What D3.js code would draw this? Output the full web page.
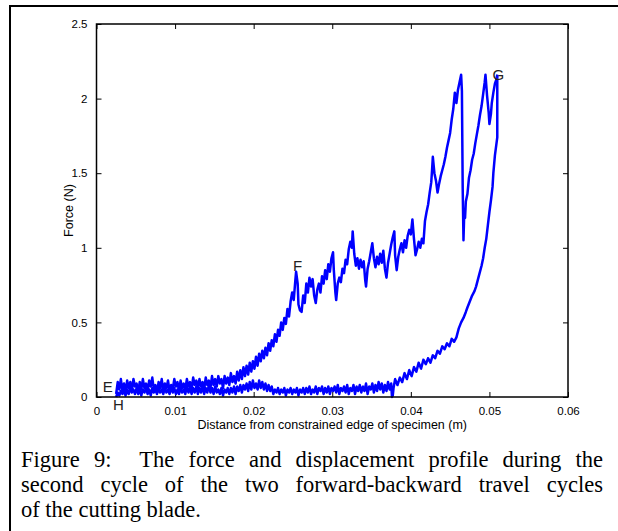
<!DOCTYPE html>
<html>
<head>
<meta charset="utf-8">
<script src="https://cdn.jsdelivr.net/npm/d3@7"></script>
<style>
  body { margin: 0; background: #fff; }
  #wrap { position: relative; width: 618px; height: 531px; overflow: hidden; }
  svg { position: absolute; left: 0; top: 0; }
  .cap { position: absolute; left: 21px; width: 582px; font-family: "Liberation Serif", "Times New Roman", serif;
         font-size: 22.5px; line-height: 25px; color: #000; white-space: nowrap; }
  .just { text-align: justify; text-align-last: justify; }
  .tick text { font-family: "Liberation Sans", Arial, sans-serif; font-size: 11.5px; fill: #000; }
</style>
</head>
<body>
<div id="wrap">
  <div id="chart"></div>
</div>
<script>
// chart values
var xTicks = [0, 0.01, 0.02, 0.03, 0.04, 0.05, 0.06];
var yTicks = [0, 0.5, 1, 1.5, 2, 2.5];
var xTitle = "Distance from constrained edge of specimen (m)";
var yTitle = "Force (N)";
var captionLines = [
  "Figure 9:\u00a0 The force and displacement profile during the",
  "second cycle of the two forward-backward travel cycles",
  "of the cutting blade."
];
// point labels [text, x, y]
var pointLabels = [["E", 0.0008, 0.034], ["F", 0.0250, 0.845], ["G", 0.0504, 2.125], ["H", 0.0021, -0.087]];

// forward travel E -> F -> G
var forwardPath = [
  [0.0025,0.02],[0.0027,0.10],[0.0029,0.05],[0.0031,0.12],[0.0033,0.04],[0.0035,0.09],[0.0037,0.03],[0.0039,0.11],
  [0.0041,0.06],[0.0043,0.10],[0.0045,0.04],[0.0047,0.12],[0.0049,0.07],[0.0051,0.09],[0.0053,0.03],[0.0055,0.10],
  [0.0057,0.05],[0.0059,0.12],[0.0061,0.06],[0.0063,0.09],[0.0065,0.04],[0.0067,0.11],[0.0069,0.07],[0.0071,0.13],
  [0.0073,0.05],[0.0075,0.08],[0.0077,0.03],[0.0079,0.10],[0.0081,0.06],[0.0083,0.12],[0.0085,0.04],[0.0087,0.09],
  [0.0089,0.06],[0.0091,0.11],[0.0093,0.04],[0.0095,0.08],[0.0097,0.05],[0.0099,0.12],[0.0101,0.07],[0.0103,0.10],
  [0.0105,0.04],[0.0107,0.11],[0.0109,0.06],[0.0111,0.09],[0.0113,0.05],[0.0115,0.12],[0.0117,0.07],[0.0119,0.10],
  [0.0121,0.05],[0.0123,0.13],[0.0125,0.08],[0.0127,0.11],[0.0129,0.06],[0.0131,0.12],[0.0133,0.07],[0.0135,0.10],
  [0.0137,0.05],[0.0139,0.13],[0.0141,0.08],[0.0143,0.11],[0.0145,0.06],[0.0147,0.14],[0.0149,0.08],[0.0151,0.12],
  [0.0153,0.07],[0.0155,0.14],[0.0157,0.09],[0.0159,0.12],[0.0161,0.06],[0.0163,0.14],[0.0165,0.09],[0.0167,0.13],
  [0.0169,0.08],[0.0171,0.16],[0.0173,0.10],[0.0175,0.14],[0.0177,0.09],[0.0179,0.17],[0.0181,0.11],[0.0183,0.18],
  [0.0185,0.12],[0.0187,0.20],[0.0189,0.14],[0.0191,0.21],[0.0193,0.15],[0.0195,0.23],[0.0197,0.17],[0.0199,0.24],
  [0.0201,0.19],[0.0203,0.27],[0.0205,0.21],[0.0207,0.29],[0.0209,0.24],[0.0211,0.31],[0.0213,0.26],[0.0215,0.33],
  [0.0217,0.28],[0.0219,0.36],[0.0221,0.31],[0.0223,0.38],[0.0225,0.34],[0.0227,0.42],[0.0229,0.37],[0.0231,0.45],
  [0.0233,0.41],[0.0235,0.50],[0.0237,0.45],[0.0239,0.53],[0.0241,0.49],[0.0243,0.59],[0.0245,0.54],[0.0247,0.64],
  [0.0249,0.70],[0.0251,0.65],[0.0253,0.78],[0.0254,0.84],[0.0256,0.76],[0.0257,0.62],[0.0259,0.58],[0.0261,0.57],
  [0.0263,0.68],[0.0265,0.63],[0.0267,0.76],[0.0269,0.70],[0.0271,0.80],[0.0273,0.74],[0.0275,0.79],[0.0277,0.68],
  [0.0279,0.63],[0.0281,0.72],[0.0283,0.76],[0.0285,0.70],[0.0287,0.81],[0.0289,0.76],[0.0291,0.85],[0.0293,0.79],
  [0.0295,0.89],[0.0297,0.84],[0.0299,0.93],[0.0301,0.97],[0.0302,0.85],[0.0304,0.70],[0.0305,0.65],[0.0307,0.76],
  [0.0309,0.80],[0.0311,0.77],[0.0313,0.86],[0.0315,0.83],[0.0317,0.92],[0.0319,0.89],[0.0321,0.99],[0.0323,1.04],
  [0.0325,1.00],[0.0326,1.11],[0.0328,0.96],[0.0330,0.88],[0.0332,0.93],[0.0334,0.86],[0.0336,0.92],[0.0338,0.87],
  [0.0340,0.91],[0.0342,0.78],[0.0343,0.74],[0.0345,0.86],[0.0347,0.91],[0.0349,0.97],[0.0351,1.03],[0.0353,0.93],
  [0.0355,0.87],[0.0357,0.94],[0.0359,0.89],[0.0361,0.96],[0.0363,0.90],[0.0365,0.98],[0.0367,0.86],[0.0369,0.80],
  [0.0371,0.90],[0.0373,0.96],[0.0375,1.02],[0.0377,1.07],[0.0379,1.11],[0.0380,0.95],[0.0382,0.85],[0.0384,0.94],
  [0.0386,0.99],[0.0388,1.03],[0.0390,0.97],[0.0392,1.05],[0.0394,1.00],[0.0396,1.08],[0.0398,1.12],[0.0400,1.09],
  [0.0402,1.19],[0.0404,1.06],[0.0406,0.95],[0.0408,0.99],[0.0410,1.04],[0.0412,1.00],[0.0414,1.06],[0.0416,1.03],
  [0.0418,1.18],[0.0420,1.24],[0.0422,1.29],[0.0424,1.37],[0.0426,1.44],[0.0427,1.52],[0.0428,1.61],[0.0430,1.50],
  [0.0432,1.45],[0.0434,1.37],[0.0436,1.43],[0.0438,1.48],[0.0440,1.52],[0.0442,1.56],[0.0444,1.61],[0.0446,1.67],
  [0.0448,1.72],[0.0450,1.77],[0.0452,1.86],[0.0454,1.93],[0.0456,2.04],[0.0458,1.97],[0.0460,2.06],[0.0462,2.11],
  [0.0464,2.16],[0.0465,2.05],[0.0466,1.40],[0.0467,1.05],[0.0468,1.24],[0.0469,1.20],[0.0470,1.31],[0.0472,1.36],
  [0.0474,1.47],[0.0476,1.52],[0.0478,1.59],[0.0480,1.63],[0.0482,1.70],[0.0484,1.76],[0.0486,1.82],[0.0488,1.89],
  [0.0490,1.95],[0.0492,2.03],[0.0494,2.11],[0.0495,2.16],[0.0497,2.02],[0.0499,1.91],[0.0500,1.83],[0.0502,1.90],
  [0.0503,1.97],[0.0505,2.04],[0.0507,2.10],[0.0509,2.13],[0.0510,2.16]
];

// backward travel G -> H
var returnPath = [
  [0.0510,2.16],[0.0510,1.74],[0.0507,1.62],[0.0505,1.50],[0.0504,1.41],[0.0502,1.32],[0.0500,1.24],[0.0498,1.15],
  [0.0496,1.06],[0.0494,1.00],[0.0492,0.93],[0.0490,0.88],[0.0487,0.82],[0.0485,0.78],[0.0483,0.74],[0.0481,0.71],
  [0.0478,0.68],[0.0475,0.64],[0.0472,0.60],[0.0470,0.57],[0.0467,0.53],[0.0464,0.50],[0.0461,0.46],[0.0458,0.40],
  [0.0455,0.37],[0.0452,0.39],[0.0449,0.34],[0.0446,0.36],[0.0443,0.32],[0.0440,0.34],[0.0437,0.29],[0.0434,0.31],
  [0.0431,0.26],[0.0428,0.28],[0.0425,0.23],[0.0422,0.26],[0.0419,0.22],[0.0416,0.25],[0.0413,0.19],[0.0410,0.23],
  [0.0407,0.17],[0.0404,0.20],[0.0401,0.14],[0.0398,0.18],[0.0395,0.12],[0.0392,0.16],[0.0389,0.10],[0.0386,0.13],
  [0.0383,0.08],[0.0380,0.12],[0.0378,0.06],[0.0377,0.01],[0.0376,0.00],[0.0375,0.09],[0.0373,0.05],[0.0371,0.10],
  [0.0369,0.04],[0.0367,0.08],[0.0365,0.03],[0.0363,0.09],[0.0361,0.05],[0.0359,0.10],[0.0357,0.04],[0.0355,0.08],
  [0.0353,0.03],[0.0351,0.09],[0.0349,0.05],[0.0347,0.07],[0.0345,0.02],[0.0343,0.09],[0.0341,0.04],[0.0339,0.07],
  [0.0337,0.03],[0.0335,0.08],[0.0333,0.04],[0.0331,0.07],[0.0329,0.02],[0.0327,0.08],[0.0325,0.04],[0.0323,0.06],
  [0.0321,0.02],[0.0319,0.08],[0.0317,0.03],[0.0315,0.07],[0.0313,0.04],[0.0311,0.06],[0.0309,0.02],[0.0307,0.08],
  [0.0305,0.03],[0.0303,0.07],[0.0301,0.04],[0.0299,0.06],[0.0297,0.02],[0.0295,0.07],[0.0293,0.03],[0.0291,0.06],
  [0.0289,0.02],[0.0287,0.07],[0.0285,0.04],[0.0283,0.06],[0.0281,0.02],[0.0279,0.07],[0.0277,0.03],[0.0275,0.05],
  [0.0273,0.02],[0.0271,0.07],[0.0269,0.03],[0.0267,0.06],[0.0265,0.02],[0.0263,0.06],[0.0261,0.03],[0.0259,0.05],
  [0.0257,0.01],[0.0255,0.06],[0.0253,0.03],[0.0251,0.05],[0.0249,0.02],[0.0247,0.06],[0.0245,0.03],[0.0243,0.05],
  [0.0241,0.01],[0.0239,0.06],[0.0237,0.03],[0.0235,0.05],[0.0233,0.02],[0.0231,0.06],[0.0229,0.03],[0.0227,0.05],
  [0.0225,0.02],[0.0223,0.07],[0.0221,0.04],[0.0219,0.08],[0.0217,0.04],[0.0215,0.09],[0.0213,0.05],[0.0211,0.10],
  [0.0209,0.06],[0.0207,0.11],[0.0205,0.05],[0.0203,0.09],[0.0201,0.06],[0.0199,0.11],[0.0197,0.05],[0.0195,0.10],
  [0.0193,0.04],[0.0191,0.09],[0.0189,0.05],[0.0187,0.08],[0.0185,0.03],[0.0183,0.08],[0.0181,0.04],[0.0179,0.07],
  [0.0177,0.02],[0.0175,0.07],[0.0173,0.03],[0.0171,0.06],[0.0169,0.02],[0.0167,0.06],[0.0165,0.03],[0.0163,0.05],
  [0.0161,0.01],[0.0159,0.06],[0.0157,0.02],[0.0155,0.05],[0.0153,0.03],[0.0151,0.07],[0.0149,0.02],[0.0147,0.06],
  [0.0145,0.03],[0.0143,0.08],[0.0141,0.03],[0.0139,0.06],[0.0137,0.02],[0.0135,0.07],[0.0133,0.03],[0.0131,0.06],
  [0.0129,0.02],[0.0127,0.07],[0.0125,0.03],[0.0123,0.06],[0.0121,0.02],[0.0119,0.06],[0.0117,0.03],[0.0115,0.07],
  [0.0113,0.02],[0.0111,0.05],[0.0109,0.03],[0.0107,0.06],[0.0105,0.02],[0.0103,0.05],[0.0101,0.02],[0.0099,0.06],
  [0.0097,0.03],[0.0095,0.07],[0.0093,0.02],[0.0091,0.05],[0.0089,0.03],[0.0087,0.06],[0.0085,0.02],[0.0083,0.05],
  [0.0081,0.03],[0.0079,0.06],[0.0077,0.02],[0.0075,0.05],[0.0073,0.03],[0.0071,0.06],[0.0069,0.01],[0.0067,0.05],
  [0.0065,0.02],[0.0063,0.06],[0.0061,0.03],[0.0059,0.05],[0.0057,0.01],[0.0055,0.05],[0.0053,0.02],[0.0051,0.06],
  [0.0049,0.02],[0.0047,0.05],[0.0045,0.03],[0.0043,0.06],[0.0041,0.02],[0.0039,0.05],[0.0037,0.01],[0.0035,0.04],
  [0.0033,0.02],[0.0031,0.04],[0.0029,0.01],[0.0027,0.03],[0.0025,0.00]
];

// layout
var svgWidth = 618, svgHeight = 531;
var margin = {top: 24, left: 96.5, right: 50, bottom: 134};
var width = svgWidth - margin.left - margin.right;
var height = svgHeight - margin.top - margin.bottom;

var svg = d3.select("#chart").append("svg")
    .attr("width", svgWidth)
    .attr("height", svgHeight);

// figure frame (top and left edges)
svg.append("path")
    .attr("d", "M10,531 L10,6 L618,6")
    .attr("fill", "none")
    .attr("stroke", "#000")
    .attr("stroke-width", 2);

var plot = svg.append("g")
    .attr("transform", `translate(${margin.left}, ${margin.top})`);

var x = d3.scaleLinear().domain([0, 0.06]).range([0, width]);
var y = d3.scaleLinear().domain([0, 2.5]).range([height, 0]);

// MATLAB style axes: ticks inward on all sides
plot.append("g")
    .attr("transform", `translate(0, ${height})`)
    .call(d3.axisBottom(x).tickValues(xTicks).tickSize(-5).tickPadding(10).tickFormat(d => d3.format("")(d)))
    .call(g => g.select(".domain").remove());
plot.append("g")
    .call(d3.axisTop(x).tickValues(xTicks).tickSize(-5).tickFormat(""))
    .call(g => g.select(".domain").remove());
plot.append("g")
    .call(d3.axisLeft(y).tickValues(yTicks).tickSize(-5).tickPadding(9).tickFormat(d => d3.format("")(d)))
    .call(g => g.select(".domain").remove());
plot.append("g")
    .attr("transform", `translate(${width}, 0)`)
    .call(d3.axisRight(y).tickValues(yTicks).tickSize(-5).tickFormat(""))
    .call(g => g.select(".domain").remove());
plot.selectAll(".tick line").attr("stroke", "#000");
plot.selectAll(".tick text").attr("fill", "#000");

var line = d3.line().x(d => x(d[0])).y(d => y(d[1]));

[forwardPath, returnPath].forEach(function(path) {
    plot.append("path").datum(path)
        .attr("d", line)
        .attr("fill", "none")
        .attr("stroke", "#0000ff")
        .attr("stroke-width", 2.5)
        .attr("stroke-linejoin", "round");
});

// box
plot.append("rect")
    .attr("width", width)
    .attr("height", height)
    .attr("fill", "none")
    .attr("stroke", "#000")
    .attr("stroke-width", 1.5);

// E F G H
plot.selectAll(".ptlabel")
    .data(pointLabels)
    .enter()
    .append("text")
    .attr("class", "ptlabel")
    .attr("x", d => x(d[1]))
    .attr("y", d => y(d[2]))
    .style("font-family", "Liberation Sans, Arial, sans-serif")
    .style("font-size", "15px")
    .style("fill", "#222")
    .text(d => d[0]);

// axis titles
plot.append("text")
    .attr("transform", `translate(${width / 2}, ${height + 32})`)
    .style("text-anchor", "middle")
    .style("font-family", "Liberation Sans, Arial, sans-serif")
    .style("font-size", "12.5px")
    .text(xTitle);
plot.append("text")
    .attr("transform", `translate(-24, ${height / 2}) rotate(-90)`)
    .style("text-anchor", "middle")
    .style("font-family", "Liberation Sans, Arial, sans-serif")
    .style("font-size", "12.5px")
    .text(yTitle);

// caption
d3.select("#wrap").selectAll(".cap")
    .data(captionLines)
    .enter()
    .append("div")
    .attr("class", (d, i) => i < 2 ? "cap just" : "cap")
    .style("top", (d, i) => (447 + i * 25) + "px")
    .text(d => d);
</script>
</body>
</html>
